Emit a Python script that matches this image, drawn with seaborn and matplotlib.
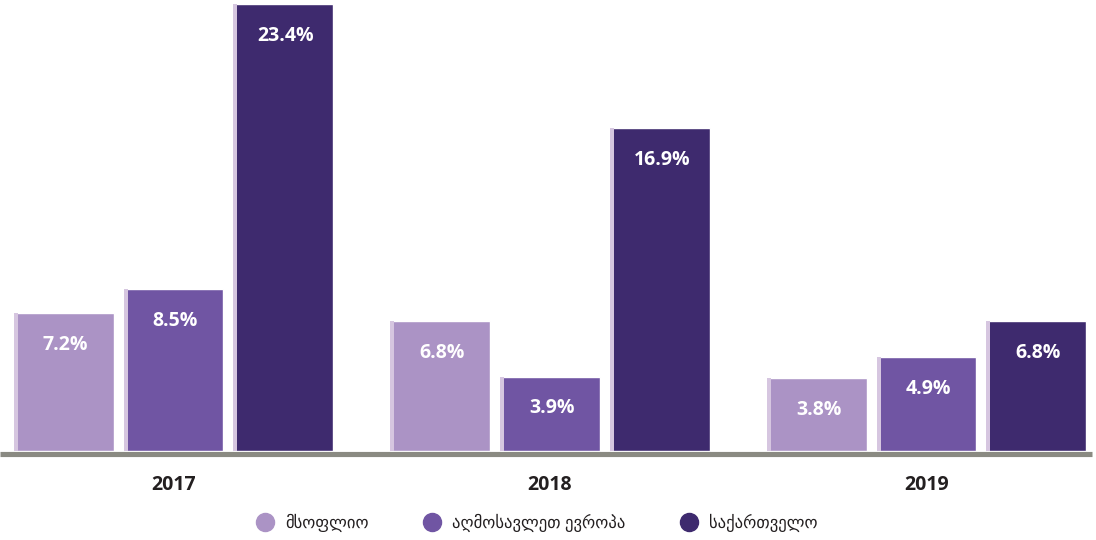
import matplotlib
matplotlib.use("Agg")
from matplotlib import pyplot as plt
from matplotlib.patches import Rectangle
from matplotlib.lines import Line2D
import seaborn as sns
import pandas as pd

# data
years = ['2017', '2018', '2019']
series = ['მსოფლიო', 'აღმოსავლეთ ევროპა', 'საქართველო']
world = [7.2, 6.8, 3.8]
east_europe = [8.5, 3.9, 4.9]
georgia = [23.4, 16.9, 6.8]
colors = ['#ab93c5', '#7055a3', '#3e2a6e']

rows = []
for name, vals in zip(series, [world, east_europe, georgia]):
    for y, v in zip(years, vals):
        rows.append({'year': y, 'series': name, 'value': v})
df = pd.DataFrame(rows)

sns.set_style("white")
plt.rcParams['font.family'] = ['Open Sans', 'DejaVu Sans']

W, H = 1096, 540
fig = plt.figure(figsize=(W / 100, H / 100), dpi=100)
# axes: full width, bottom a bit below baseline
ax = fig.add_axes([0, (H - 456) / H, 1, 456 / H])

sns.barplot(data=df, x='year', y='value', hue='series', order=years,
            hue_order=series, palette=colors, width=0.875, gap=0.09,
            saturation=1, legend=False, ax=ax)

pxu = 447 / 23.4  # pixels per unit
ax.set_ylim(-5 / pxu, 23.4 + 4 / pxu)
ax.set_xlim(-173.5 / 376.5, (W - 173.5) / 376.5)

# light left edge on each bar + labels
stripe = 4 / 376.5
for p in ax.patches:
    h = p.get_height()
    if h <= 0:
        continue
    ax.add_patch(Rectangle((p.get_x(), 0), stripe, h, color='#d6c6e0',
                           lw=0, zorder=p.get_zorder() + 0.1))
    ax.annotate(f'{h:.1f}%', (p.get_x() + p.get_width() / 2 + stripe / 2, h),
                xytext=(0, -23), textcoords='offset points', ha='center',
                va='center', color='white', fontsize=14, fontweight='bold')

# baseline
ax.axhline(-2.5 / pxu, xmin=0, xmax=1092 / W, color='#8a8a82', lw=3.7,
           zorder=5, clip_on=False, solid_capstyle='butt')

sns.despine(ax=ax, left=True, bottom=True)
ax.set_yticks([])
ax.set_xlabel('')
ax.set_ylabel('')
ax.tick_params(axis='x', length=0, pad=14)
for t in ax.get_xticklabels():
    t.set_fontweight('bold')
    t.set_fontsize(14)
    t.set_color('#231f20')

handles = [Line2D([], [], marker='o', ls='', markersize=13, color=c) for c in colors]
fig.legend(handles, series, loc='center', bbox_to_anchor=(0.49, 1 - 523 / H),
           ncol=3, frameon=False, fontsize=12, columnspacing=3.3,
           handlelength=1.0, handletextpad=0.7, labelcolor='#231f20')

fig.savefig('out.png', dpi=100)
